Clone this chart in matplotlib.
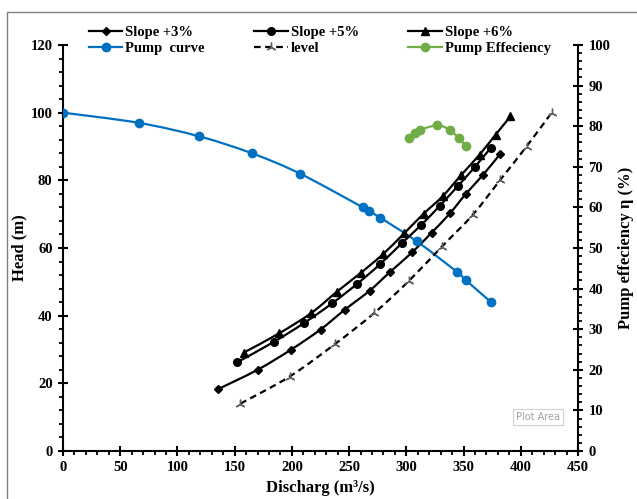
import matplotlib
matplotlib.use("Agg")
import matplotlib.pyplot as plt
import numpy as np
from matplotlib.path import Path
from matplotlib.patches import PathPatch, Rectangle
from matplotlib.lines import Line2D
from matplotlib.ticker import MultipleLocator

plt.rcParams['font.family'] = ['Liberation Serif', 'DejaVu Serif']
plt.rcParams['font.weight'] = 'bold'

# ---- data ----
pump_q = [0, 66, 119, 165, 207, 262, 267, 277, 309, 344, 352, 374]
pump_h = [100, 97, 93, 88, 82, 72, 71, 69, 62, 53, 50.5, 44]

s3_q = [135, 170, 199, 225, 246, 268, 286, 305, 322, 338, 352, 367, 382]
s3_h = [18.2, 24.0, 29.9, 35.9, 41.7, 47.4, 53.0, 58.7, 64.5, 70.2, 76.0, 81.6, 87.8]

s5_q = [152, 184, 211, 235, 257, 277, 296, 313, 329, 345, 360, 374]
s5_h = [26.2, 32.2, 37.9, 43.6, 49.4, 55.2, 61.4, 66.8, 72.4, 78.3, 84.0, 89.7]

s6_q = [158, 189, 217, 239, 260, 280, 298, 315, 332, 348, 364, 378, 391]
s6_h = [29.1, 34.8, 40.8, 47.0, 52.6, 58.3, 64.3, 70.1, 75.4, 81.6, 87.6, 93.5, 98.9]

lvl_q = [155, 198, 238, 272, 302, 331, 358, 382, 405, 427]
lvl_h = [14.0, 22.0, 31.7, 40.8, 50.2, 60.4, 69.8, 80.1, 90.0, 100.0]

eff_q = [302, 308, 312, 327, 338, 346, 352]
eff_v = [77.0, 78.3, 79.1, 80.2, 79.1, 77.0, 75.2]

x_ticks = [0, 50, 100, 150, 200, 250, 300, 350, 400, 450]
left_ticks = [0, 20, 40, 60, 80, 100, 120]
right_ticks = [0, 10, 20, 30, 40, 50, 60, 70, 80, 90, 100]

BLUE = '#0070C0'
GREEN = '#70AD47'


def smooth_path(xs, ys):
    p = np.column_stack([xs, ys]).astype(float)
    n = len(p)
    verts = [p[0]]
    codes = [Path.MOVETO]
    for i in range(n - 1):
        p0 = p[i - 1] if i > 0 else p[i]
        p1 = p[i]
        p2 = p[i + 1]
        p3 = p[i + 2] if i + 2 < n else p[i + 1]
        c1 = p1 + (p2 - p0) / 6.0
        c2 = p2 - (p3 - p1) / 6.0
        verts += [c1, c2, p2]
        codes += [Path.CURVE4] * 3
    return Path(verts, codes)


fig = plt.figure(figsize=(6.37, 4.99), dpi=100)
ax = fig.add_axes([63/637, 1-451/499, 515/637, 406/499])
ax2 = ax.twinx()

def draw(axis, xs, ys, color, ls, marker, ms, mfc=None, mec=None, lw=1.6):
    patch = PathPatch(smooth_path(xs, ys), fill=False, edgecolor=color,
                      linewidth=lw, linestyle=ls, transform=axis.transData, zorder=3)
    axis.add_patch(patch)
    axis.plot(xs, ys, linestyle='none', marker=marker, markersize=ms,
              markerfacecolor=mfc or color, markeredgecolor=mec or color, zorder=4)

draw(ax, pump_q, pump_h, BLUE, '-', 'o', 6)
draw(ax, s3_q, s3_h, 'black', '-', 'D', 4)
draw(ax, s5_q, s5_h, 'black', '-', 'o', 5.5)
draw(ax, s6_q, s6_h, 'black', '-', '^', 5.5)
draw(ax, lvl_q, lvl_h, 'black', (0, (3, 2)), (3, 2, 0), 7, mfc='#606060', mec='#606060')
draw(ax2, eff_q, eff_v, GREEN, '-', 'o', 6)

ax.set_xlim(0, 450)
ax.set_ylim(0, 120)
ax2.set_ylim(0, 100)
ax.set_xticks(x_ticks)
ax.set_yticks(left_ticks)
ax2.set_yticks(right_ticks)
ax.xaxis.set_minor_locator(MultipleLocator(10))
ax.yaxis.set_minor_locator(MultipleLocator(4))
ax2.yaxis.set_minor_locator(MultipleLocator(2))

for a in (ax, ax2):
    a.spines['top'].set_visible(False)
    for s in a.spines.values():
        s.set_linewidth(1.5)
ax.spines['right'].set_visible(False)
ax2.spines['left'].set_visible(False)
ax2.spines['bottom'].set_visible(False)

ax.tick_params(axis='both', which='major', direction='inout', length=7, width=1.5,
               labelsize=10.5, pad=4)
ax.tick_params(axis='both', which='minor', direction='out', length=3, width=1.3)
ax2.tick_params(axis='y', which='major', direction='inout', length=7, width=1.5,
                labelsize=10.5, pad=4)
ax2.tick_params(axis='y', which='minor', direction='out', length=3, width=1.3)
for lab in ax.get_xticklabels() + ax.get_yticklabels() + ax2.get_yticklabels():
    lab.set_fontweight('bold')

ax.set_xlabel('Discharg (m³/s)', fontsize=12, fontweight='bold', labelpad=4)
ax.set_ylabel('Head (m)', fontsize=12, fontweight='bold', va='center')
ax2.set_ylabel('Pump effeciency η (%)', fontsize=12, fontweight='bold', va='center')
ax.yaxis.set_label_coords((19 - 63) / 515, 0.5)
ax2.yaxis.set_label_coords((626 - 63) / 515, 0.5)

# legend
h_s3 = Line2D([], [], color='black', lw=1.6, marker='D', ms=4)
h_s5 = Line2D([], [], color='black', lw=1.6, marker='o', ms=5.5)
h_s6 = Line2D([], [], color='black', lw=1.6, marker='^', ms=5.5)
h_pump = Line2D([], [], color=BLUE, lw=1.6, marker='o', ms=6)
h_lvl = Line2D([], [], color='black', lw=1.6, ls=(0, (3, 2)), marker=(3, 2, 0), ms=7,
               mfc='#606060', mec='#606060')
h_eff = Line2D([], [], color=GREEN, lw=1.6, marker='o', ms=6)
handles = [h_s3, h_pump, h_s5, h_lvl, h_s6, h_eff]
labels = ['Slope +3%', 'Pump  curve', 'Slope +5%', 'level', 'Slope +6%', 'Pump Effeciency']
leg = fig.legend(handles, labels, ncol=3, loc='upper left',
                 bbox_to_anchor=(80/637, 1-17/499), frameon=False,
                 prop={'family': 'Liberation Serif', 'weight': 'bold', 'size': 10.5},
                 handlelength=2.3, handletextpad=0.2, columnspacing=3.4,
                 labelspacing=0.2, borderpad=0.1)

# chart area border
fig.patches.append(Rectangle((7/637, -0.1), 1.1, 1 - 12/499 + 0.1,
                             transform=fig.transFigure, fill=False,
                             edgecolor='#7F7F7F', linewidth=1.0))

# Excel tooltip artifact
fig.text(538/637, 1-417/499, 'Plot Area', fontsize=7, color='#A0A0A0',
         family='DejaVu Sans', fontweight='normal', ha='center', va='center',
         bbox=dict(boxstyle='square,pad=0.3', fc='white', ec='#D0D0D0', lw=0.8))

fig.savefig('out.png', dpi=100)
